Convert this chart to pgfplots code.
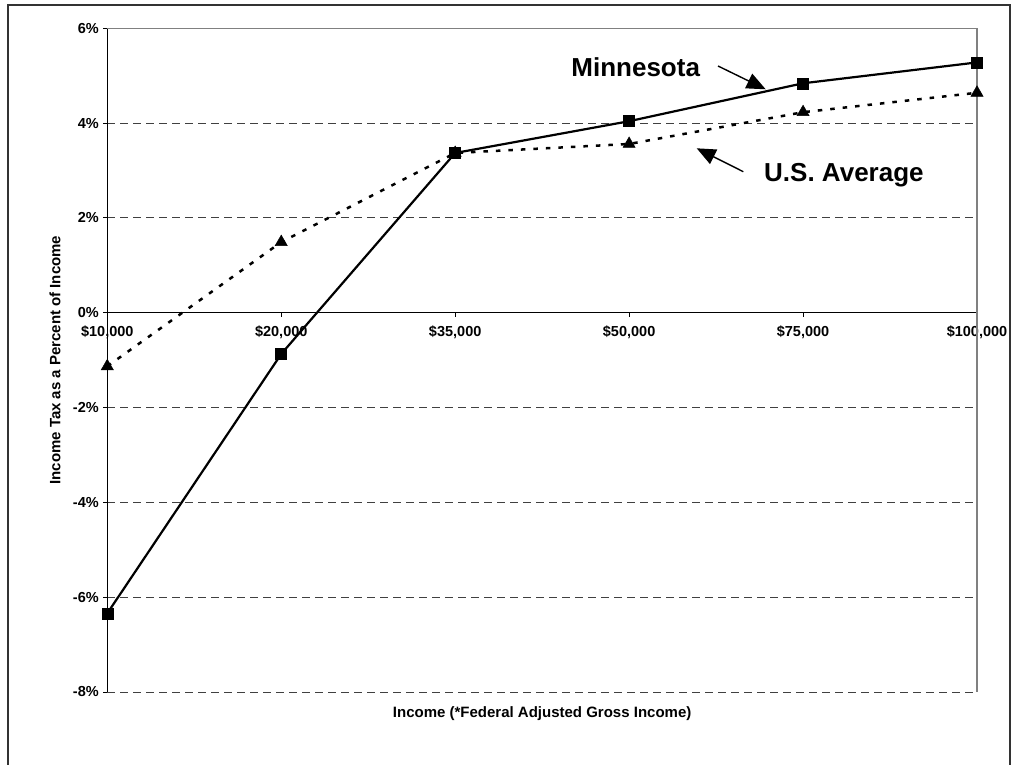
\documentclass[border=0pt]{standalone}
\usepackage{pgfplots}
\pgfplotsset{compat=1.18}
\usepackage{fontspec}
\setmainfont{Liberation Sans}
\usetikzlibrary{arrows.meta}

\pgfplotstableread{
x  mn     us
0  -6.34  -1.13
1  -0.87   1.49
2   3.37   3.37
3   4.04   3.56
4   4.84   4.23
5   5.28   4.64
}\taxdata

\begin{document}
\begin{tikzpicture}[x=1pt,y=1pt]
\useasboundingbox (0,0) rectangle (1011,764);
\clip (0,0) rectangle (1011,764);
% outer chart frame
\draw[line width=2pt, black!80] (8,-20) -- (8,759) -- (1009.5,759) -- (1009.5,-20);

\begin{axis}[
  at={(107.3pt,72pt)}, anchor=south west,
  scale only axis, width=869.7pt, height=663.7pt,
  xmin=0, xmax=5, ymin=-8, ymax=6,
  clip=false,
  axis x line*=middle, axis y line*=left,
  hide obscured x ticks=false, hide obscured y ticks=false,
  xtick={0,...,5},
  xticklabels={{\$10,000},{\$20,000},{\$35,000},{\$50,000},{\$75,000},{\$100,000}},
  ytick={-8,-6,...,6},
  yticklabels={-8\%,-6\%,-4\%,-2\%,0\%,2\%,4\%,6\%},
  tick align=outside,
  major tick length=4pt,
  every tick/.style={black, line width=1pt},
  x axis line style={line width=1.5pt, black},
  y axis line style={line width=1.2pt, black},
  ymajorgrids,
  grid style={black!75, line width=1pt, dash pattern=on 8pt off 5pt},
  tick label style={font=\fontsize{14.5}{16}\selectfont\bfseries},
  xticklabel style={yshift=-5pt},
  yticklabel style={xshift=-1pt},
  xlabel={Income (*Federal Adjusted Gross Income)},
  ylabel={Income Tax as a Percent of Income},
  label style={font=\fontsize{15}{17}\selectfont\bfseries},
  xlabel style={at={(axis description cs:0.5,-0.0331)}, anchor=center},
  ylabel style={at={(axis description cs:-0.0601,0.5)}, anchor=center},
]
% plot area border (top and right)
\draw[gray, line width=1.5pt] (axis cs:0,6) -- (axis cs:5,6) -- (axis cs:5,-8);

\addplot[black, line width=2.5pt, dash pattern=on 4.5pt off 8pt,
  mark=triangle*, mark size=7pt, mark options={solid, fill=black, line width=0.5pt}]
  table[x=x, y=us] {\taxdata};
\addplot[black, line width=2.2pt,
  mark=square*, mark size=5.5pt, mark options={solid, fill=black, line width=0.5pt}]
  table[x=x, y=mn] {\taxdata};
\end{axis}

% series callouts
\node[anchor=base, font=\fontsize{26}{30}\selectfont\bfseries] at (635.7,687.3) {Minnesota};
\draw[line width=1.4pt, -{Triangle[length=19pt,width=16pt]}] (718,698) -- (765.7,674.7);
\node[anchor=base, font=\fontsize{26}{30}\selectfont\bfseries] at (843.9,582.3) {U.S. Average};
\draw[line width=1.4pt, -{Triangle[length=19pt,width=16pt]}] (743.3,592.3) -- (696.7,615.7);
\end{tikzpicture}
\end{document}
